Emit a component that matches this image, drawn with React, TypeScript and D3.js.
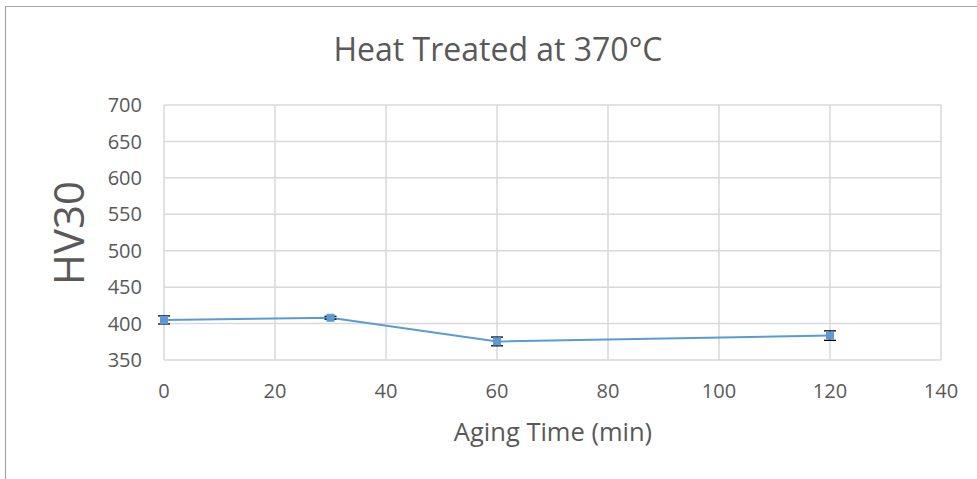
import React from "react";
import * as d3 from "d3";

const xValues = [0, 30, 60, 120];
const hvValues = [405, 408, 375.5, 383.5];
const hvErrors = [5.5, 2, 6, 6.5];
const xTicks = [0, 20, 40, 60, 80, 100, 120, 140];
const yTicks = [350, 400, 450, 500, 550, 600, 650, 700];

export default function App() {
  const W = 977, H = 479;
  const left = 164, right = 941, top = 105, bottom = 360;
  const x = d3.scaleLinear().domain([0, 140]).range([left, right]);
  const y = d3.scaleLinear().domain([350, 700]).range([bottom, top]);
  const font = "'Open Sans', 'Noto Sans', sans-serif";
  const txt = "#595959";
  const line = d3.line<number>().x((_, i) => x(xValues[i])).y((d) => y(d));
  return (
    <svg width={W} height={H} style={{ position: "absolute", left: 0, top: 0 }}>
      <rect x={0} y={0} width={W} height={H} fill="#fff" />
      <path d={`M5.5,${H} V6.5 H${W}`} fill="none" stroke="#a6a6a6" strokeWidth={1.2} />
      {xTicks.map((t) => (
        <line key={"gx" + t} x1={x(t)} x2={x(t)} y1={top} y2={bottom} stroke="#d9d9d9" strokeWidth={1.5} />
      ))}
      {yTicks.map((t) => (
        <line key={"gy" + t} x1={left} x2={right} y1={y(t)} y2={y(t)} stroke="#d9d9d9" strokeWidth={1.5} />
      ))}
      {yTicks.map((t) => (
        <text key={"ty" + t} x={left - 22} y={y(t)} dy="0.36em" textAnchor="end" fontSize={20} fill={txt} fontFamily={font}>{t}</text>
      ))}
      {xTicks.map((t) => (
        <text key={"tx" + t} x={x(t)} y={bottom + 38} textAnchor="middle" fontSize={20} fill={txt} fontFamily={font}>{t}</text>
      ))}
      <path d={line(hvValues) || ""} fill="none" stroke="#5b9bd5" strokeWidth={2} />
      {hvValues.map((v, i) => {
        const cx = x(xValues[i]);
        const e = hvErrors[i];
        return (
          <g key={"p" + i}>
            <line x1={cx} x2={cx} y1={y(v + e)} y2={y(v - e)} stroke="#000" strokeWidth={1} />
            <line x1={cx - 6} x2={cx + 6} y1={y(v + e)} y2={y(v + e)} stroke="#000" strokeWidth={1.3} />
            <line x1={cx - 6} x2={cx + 6} y1={y(v - e)} y2={y(v - e)} stroke="#000" strokeWidth={1.3} />
            <rect x={cx - 3.5} y={y(v) - 3.5} width={7} height={7} fill="#5b9bd5" stroke="#5b9bd5" />
          </g>
        );
      })}
      <text x={498} y={61} textAnchor="middle" fontSize={32} fill={txt} fontFamily={font}>Heat Treated at 370°C</text>
      <text transform={`translate(84,233) rotate(-90)`} textAnchor="middle" fontSize={42} fill={txt} fontFamily={font}>HV30</text>
      <text x={553} y={441} textAnchor="middle" fontSize={25.5} fill={txt} fontFamily={font}>Aging Time (min)</text>
    </svg>
  );
}
